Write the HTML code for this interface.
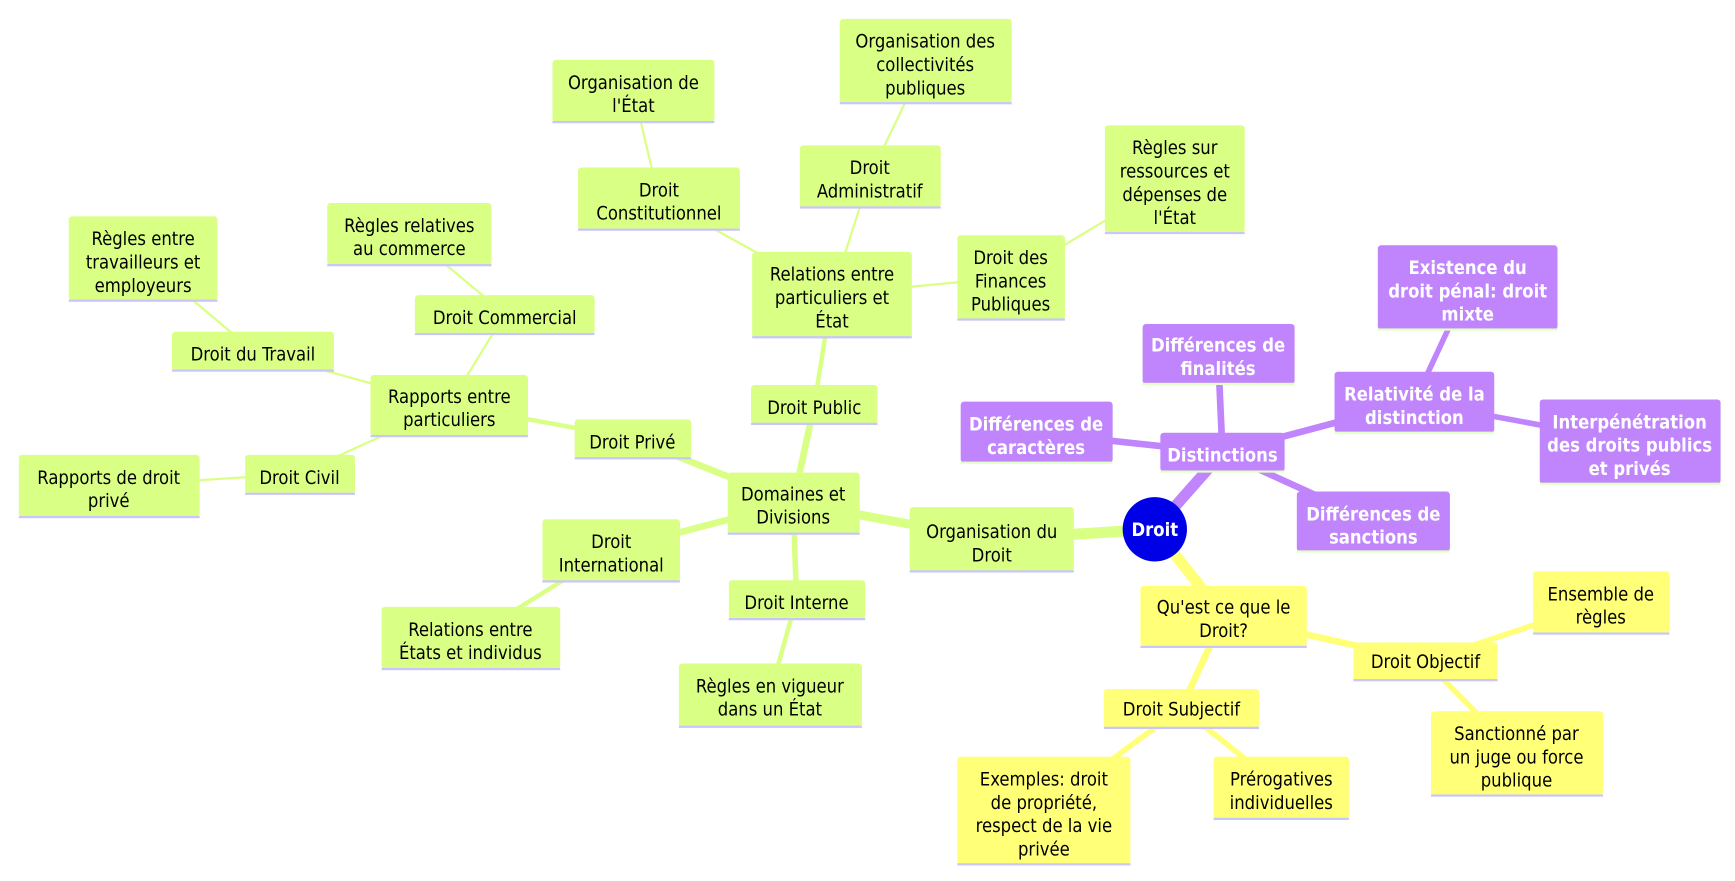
<!DOCTYPE html>
<html><head><meta charset="utf-8"><style>
html,body{margin:0;padding:0;background:#fff;width:1735px;height:881px;overflow:hidden}
svg text{font-family:"DejaVu Sans Condensed","Liberation Sans",sans-serif;font-size:16.5px;text-anchor:middle}
</style></head><body>
<svg width="1735" height="881" viewBox="0 0 1564 794" preserveAspectRatio="none" xmlns="http://www.w3.org/2000/svg">
<g stroke-linecap="round" fill="none">
<g stroke="#d9ff85">
<line x1="1041" y1="477" x2="894" y2="486" stroke-width="10"/>
<line x1="894" y1="486" x2="715" y2="453" stroke-width="8"/>
<line x1="715" y1="453" x2="734" y2="365" stroke-width="6"/>
<line x1="715" y1="453" x2="570" y2="395" stroke-width="6"/>
<line x1="715" y1="453" x2="551" y2="496" stroke-width="6"/>
<line x1="715" y1="453" x2="718" y2="540" stroke-width="5"/>
<line x1="734" y1="365" x2="750" y2="265" stroke-width="4"/>
<line x1="750" y1="265" x2="594" y2="179" stroke-width="2"/>
<line x1="750" y1="265" x2="784" y2="159" stroke-width="2"/>
<line x1="750" y1="265" x2="911" y2="250" stroke-width="2"/>
<line x1="594" y1="179" x2="571" y2="82" stroke-width="2"/>
<line x1="784" y1="159" x2="834" y2="55" stroke-width="2"/>
<line x1="911" y1="250" x2="1059" y2="161" stroke-width="2"/>
<line x1="570" y1="395" x2="405" y2="365" stroke-width="4"/>
<line x1="405" y1="365" x2="455" y2="283" stroke-width="2"/>
<line x1="405" y1="365" x2="228" y2="316" stroke-width="2"/>
<line x1="405" y1="365" x2="270" y2="427" stroke-width="2"/>
<line x1="455" y1="283" x2="369" y2="211" stroke-width="2"/>
<line x1="228" y1="316" x2="129" y2="233" stroke-width="2"/>
<line x1="270" y1="427" x2="98" y2="438" stroke-width="2"/>
<line x1="551" y1="496" x2="424" y2="575" stroke-width="4"/>
<line x1="718" y1="540" x2="694" y2="626" stroke-width="4"/>
</g>
<g stroke="#c084fc">
<line x1="1041" y1="477" x2="1102" y2="408" stroke-width="10"/>
<line x1="1102" y1="408" x2="1098" y2="319" stroke-width="6"/>
<line x1="1102" y1="408" x2="934" y2="390" stroke-width="6"/>
<line x1="1102" y1="408" x2="1238" y2="470" stroke-width="6"/>
<line x1="1102" y1="408" x2="1275" y2="362" stroke-width="6"/>
<line x1="1275" y1="362" x2="1323" y2="259" stroke-width="5"/>
<line x1="1275" y1="362" x2="1469" y2="398" stroke-width="5"/>
</g>
<g stroke="#ffff78">
<line x1="1041" y1="477" x2="1103" y2="555" stroke-width="10"/>
<line x1="1103" y1="555" x2="1285" y2="596" stroke-width="6"/>
<line x1="1103" y1="555" x2="1065" y2="638" stroke-width="6"/>
<line x1="1285" y1="596" x2="1443" y2="543" stroke-width="5"/>
<line x1="1285" y1="596" x2="1367" y2="679" stroke-width="5"/>
<line x1="1065" y1="638" x2="941" y2="730" stroke-width="5"/>
<line x1="1065" y1="638" x2="1155" y2="710" stroke-width="5"/>
</g>
</g>

<g>
<g fill="#d9ff85">
<rect x="498" y="54" width="146" height="56" rx="3"/>
<rect x="757" y="17" width="155" height="76" rx="3"/>
<rect x="521" y="151" width="146" height="56" rx="3"/>
<rect x="721" y="131" width="127" height="56" rx="3"/>
<rect x="996" y="113" width="126" height="97" rx="3"/>
<rect x="863" y="212" width="97" height="76" rx="3"/>
<rect x="678" y="227" width="144" height="77" rx="3"/>
<rect x="295" y="183" width="148" height="56" rx="3"/>
<rect x="62" y="195" width="134" height="76" rx="3"/>
<rect x="374" y="266" width="162" height="35" rx="3"/>
<rect x="155" y="299" width="146" height="35" rx="3"/>
<rect x="334" y="338" width="142" height="55" rx="3"/>
<rect x="677" y="347" width="114" height="35" rx="3"/>
<rect x="518" y="378" width="105" height="35" rx="3"/>
<rect x="221" y="410" width="99" height="35" rx="3"/>
<rect x="17" y="410" width="163" height="56" rx="3"/>
<rect x="656" y="426" width="119" height="55" rx="3"/>
<rect x="489" y="468" width="124" height="56" rx="3"/>
<rect x="820" y="457" width="148" height="58" rx="3"/>
<rect x="657" y="523" width="123" height="35" rx="3"/>
<rect x="344" y="547" width="161" height="56" rx="3"/>
<rect x="612" y="598" width="165" height="57" rx="3"/>
</g>
<g fill="#c9c5ff">
<rect x="498" y="109" width="146" height="2"/>
<rect x="757" y="92" width="155" height="2"/>
<rect x="521" y="206" width="146" height="2"/>
<rect x="721" y="186" width="127" height="2"/>
<rect x="996" y="209" width="126" height="2"/>
<rect x="863" y="287" width="97" height="2"/>
<rect x="678" y="303" width="144" height="2"/>
<rect x="295" y="238" width="148" height="2"/>
<rect x="62" y="270" width="134" height="2"/>
<rect x="374" y="300" width="162" height="2"/>
<rect x="155" y="333" width="146" height="2"/>
<rect x="334" y="392" width="142" height="2"/>
<rect x="677" y="381" width="114" height="2"/>
<rect x="518" y="412" width="105" height="2"/>
<rect x="221" y="444" width="99" height="2"/>
<rect x="17" y="465" width="163" height="2"/>
<rect x="656" y="480" width="119" height="2"/>
<rect x="489" y="523" width="124" height="2"/>
<rect x="820" y="514" width="148" height="2"/>
<rect x="657" y="557" width="123" height="2"/>
<rect x="344" y="602" width="161" height="2"/>
<rect x="612" y="654" width="165" height="2"/>
</g>
</g>

<g fill="#c084fc">
<rect x="1242" y="221" width="162" height="76" rx="3"/>
<rect x="1030" y="292" width="137" height="54" rx="3"/>
<rect x="1203" y="335" width="144" height="55" rx="3"/>
<rect x="866" y="362" width="137" height="55" rx="3"/>
<rect x="1388" y="360" width="163" height="76" rx="3"/>
<rect x="1046" y="390" width="112" height="35" rx="3"/>
<rect x="1169" y="443" width="138" height="54" rx="3"/>
</g>
<g fill="#e2ffc4">
<rect x="1242" y="296" width="162" height="2"/>
<rect x="1030" y="345" width="137" height="2"/>
<rect x="1203" y="389" width="144" height="2"/>
<rect x="866" y="416" width="137" height="2"/>
<rect x="1388" y="435" width="163" height="2"/>
<rect x="1046" y="424" width="112" height="2"/>
<rect x="1169" y="496" width="138" height="2"/>
</g>

<g fill="#ffff78">
<rect x="1028" y="528" width="150" height="55" rx="3"/>
<rect x="1382" y="515" width="123" height="56" rx="3"/>
<rect x="1220" y="579" width="130" height="34" rx="3"/>
<rect x="995" y="621" width="140" height="35" rx="3"/>
<rect x="1290" y="641" width="155" height="76" rx="3"/>
<rect x="863" y="682" width="156" height="97" rx="3"/>
<rect x="1094" y="682" width="122" height="56" rx="3"/>
</g>
<g fill="#c9c5ff">
<rect x="1028" y="582" width="150" height="2"/>
<rect x="1382" y="570" width="123" height="2"/>
<rect x="1220" y="612" width="130" height="2"/>
<rect x="995" y="655" width="140" height="2"/>
<rect x="1290" y="716" width="155" height="2"/>
<rect x="863" y="778" width="156" height="2"/>
<rect x="1094" y="737" width="122" height="2"/>
</g>

<circle cx="1041" cy="477" r="29" fill="#0000e6"/>

<g fill="#000">
<text x="571" y="80">Organisation de</text><text x="571" y="101">l'État</text>
<text x="834" y="43">Organisation des</text><text x="834" y="64">collectivités</text><text x="834" y="85">publiques</text>
<text x="594" y="177">Droit</text><text x="594" y="198">Constitutionnel</text>
<text x="784" y="157">Droit</text><text x="784" y="178">Administratif</text>
<text x="1059" y="139">Règles sur</text><text x="1059" y="160">ressources et</text><text x="1059" y="181">dépenses de</text><text x="1059" y="202">l'État</text>
<text x="911" y="238">Droit des</text><text x="911" y="259">Finances</text><text x="911" y="280">Publiques</text>
<text x="750" y="253">Relations entre</text><text x="750" y="274">particuliers et</text><text x="750" y="295">État</text>
<text x="369" y="209">Règles relatives</text><text x="369" y="230">au commerce</text>
<text x="129" y="221">Règles entre</text><text x="129" y="242">travailleurs et</text><text x="129" y="263">employeurs</text>
<text x="455" y="292">Droit Commercial</text>
<text x="228" y="325">Droit du Travail</text>
<text x="405" y="363">Rapports entre</text><text x="405" y="384">particuliers</text>
<text x="734" y="373">Droit Public</text>
<text x="570" y="404">Droit Privé</text>
<text x="270" y="436">Droit Civil</text>
<text x="98" y="436">Rapports de droit</text><text x="98" y="457">privé</text>
<text x="715" y="451">Domaines et</text><text x="715" y="472">Divisions</text>
<text x="551" y="494">Droit</text><text x="551" y="515">International</text>
<text x="894" y="485">Organisation du</text><text x="894" y="506">Droit</text>
<text x="718" y="549">Droit Interne</text>
<text x="424" y="573">Relations entre</text><text x="424" y="594">États et individus</text>
<text x="694" y="624">Règles en vigueur</text><text x="694" y="645">dans un État</text>
<text x="1103" y="553">Qu'est ce que le</text><text x="1103" y="574">Droit?</text>
<text x="1443" y="541">Ensemble de</text><text x="1443" y="562">règles</text>
<text x="1285" y="602">Droit Objectif</text>
<text x="1065" y="645">Droit Subjectif</text>
<text x="1367" y="667">Sanctionné par</text><text x="1367" y="688">un juge ou force</text><text x="1367" y="709">publique</text>
<text x="941" y="708">Exemples: droit</text><text x="941" y="729">de propriété,</text><text x="941" y="750">respect de la vie</text><text x="941" y="771">privée</text>
<text x="1155" y="708">Prérogatives</text><text x="1155" y="729">individuelles</text>
</g>
<g fill="#fff" font-weight="bold">
<text x="1323" y="247">Existence du</text><text x="1323" y="268">droit pénal: droit</text><text x="1323" y="289">mixte</text>
<text x="1098" y="317">Différences de</text><text x="1098" y="338">finalités</text>
<text x="1275" y="361">Relativité de la</text><text x="1275" y="382">distinction</text>
<text x="934" y="388">Différences de</text><text x="934" y="409">caractères</text>
<text x="1469" y="386">Interpénétration</text><text x="1469" y="407">des droits publics</text><text x="1469" y="428">et privés</text>
<text x="1102" y="416">Distinctions</text>
<text x="1238" y="469">Différences de</text><text x="1238" y="490">sanctions</text>
<text x="1041" y="483">Droit</text>
</g>
</svg>
</body></html>
